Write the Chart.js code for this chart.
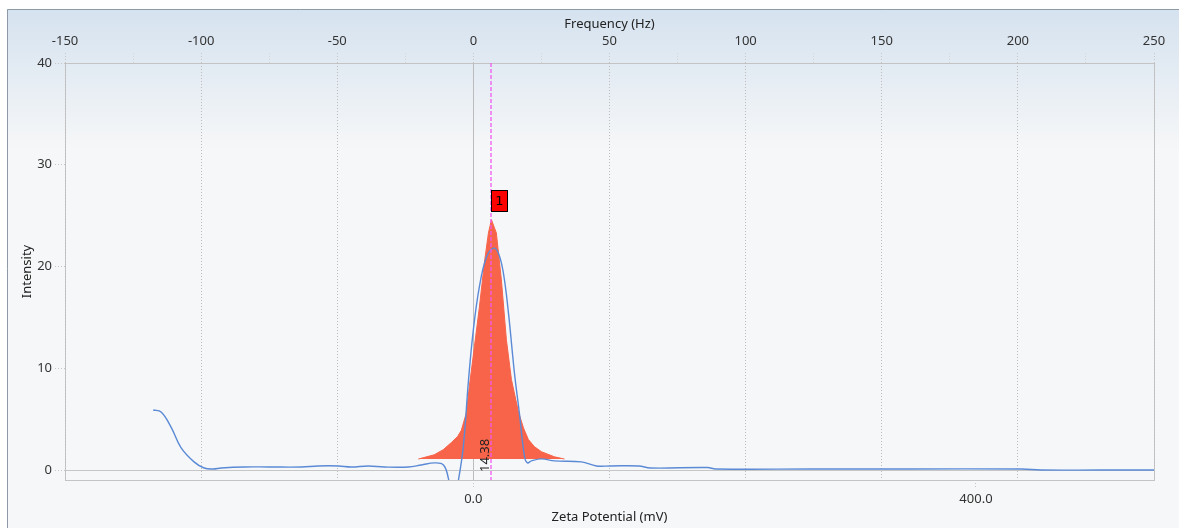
<!DOCTYPE html>
<html>
<head>
<meta charset="utf-8">
<script src="https://cdn.jsdelivr.net/npm/chart.js@4.4.1/dist/chart.umd.min.js"></script>
<style>
  html, body { margin: 0; padding: 0; background: #fff; }
  canvas { display: block; }
</style>
</head>
<body>
<canvas id="zetaChart" width="1179" height="528"></canvas>
<script>
  // phase / frequency plot (Hz on the top axis)
  const freqHz = [-117.6, -114.7, -111, -107.4, -102.6, -98.9, -95.6, -92.6, -84.2, -75, -63.2, -57, -49.6, -44.9, -38.6, -32.7, -23.9, -19.1, -14.3, -11, -9.2, -7.5, -5.5, -3.7, -1.8, 0, 2.2, 4.8, 7.4, 9.2, 11, 12.9, 15.1, 16.9, 18.8, 19.9, 21.3, 25, 29.8, 39.7, 45.2, 50.4, 60.7, 65.1, 86, 89, 124.3, 160, 201.5, 208.5, 230, 250];
  const freqIntensity = [5.9, 5.7, 4.2, 2.2, 0.8, 0.2, 0.1, 0.2, 0.3, 0.3, 0.3, 0.4, 0.4, 0.3, 0.4, 0.3, 0.3, 0.5, 0.7, 0.5, -0.8, -3.5, -1.0, 2.3, 8.8, 13.8, 18.0, 20.9, 21.8, 21.3, 19.4, 15.4, 9.5, 5.6, 1.3, 0.7, 0.9, 1.1, 0.9, 0.8, 0.4, 0.4, 0.4, 0.2, 0.25, 0.1, 0.1, 0.1, 0.1, 0.0, 0.0, 0.0];

  // zeta potential distribution (mV on the bottom axis)
  const zetaMv = [-43.8, -31.1, -24, -17.5, -12.5, -9.6, -5.6, -3.2, 0.8, 4.8, 8.8, 12, 14.38, 18.3, 22.3, 26.3, 30.3, 35.9, 40, 43.8, 48.5, 54.2, 64.5, 72.5];
  const zetaIntensity = [1.08, 1.5, 2.0, 2.7, 3.3, 3.9, 5.6, 8.2, 12.1, 16.0, 20.4, 23.3, 24.6, 23.3, 18.7, 12.8, 8.9, 5.7, 4.1, 3.0, 2.3, 1.8, 1.3, 1.08];
  const zetaBase = 1.08;
  const peakZeta = 14.38;
  const peakName = '1';

  const freqTicks = [-150, -125, -100, -75, -50, -25, 0, 25, 50, 75, 100, 125, 150, 175, 200, 225, 250];
  const zetaTicks = [0, 400];
  const intensityTicks = [0, 10, 20, 30, 40];

  const font = { family: "'Noto Sans', 'DejaVu Sans', sans-serif", size: 13 };
  const gridGray = '#c6c6c6';

  const decorations = {
    id: 'decorations',
    beforeDraw(chart) {
      const { ctx, width, height, chartArea: a } = chart;
      ctx.save();
      ctx.fillStyle = '#fff';
      ctx.fillRect(0, 0, width, height);
      const g = ctx.createLinearGradient(0, 9, 0, 150);
      g.addColorStop(0, '#d5e2ef');
      g.addColorStop(1, '#f6f7f8');
      ctx.fillStyle = g;
      ctx.fillRect(7, 9, width - 7, height - 9);
      ctx.strokeStyle = '#8d99a6';
      ctx.lineWidth = 1;
      ctx.beginPath();
      ctx.moveTo(7.5, height);
      ctx.lineTo(7.5, 9.5);
      ctx.lineTo(width, 9.5);
      ctx.stroke();
      ctx.strokeStyle = '#c4c4c4';
      ctx.strokeRect(a.left + 0.5, a.top + 0.5, a.right - a.left, a.bottom - a.top);
      ctx.restore();
    },
    afterDatasetsDraw(chart) {
      const { ctx, chartArea: a, scales } = chart;
      const px = scales.xz.getPixelForValue(peakZeta);
      const py = scales.y.getPixelForValue(Math.max(...zetaIntensity));
      ctx.save();
      // peak marker line
      ctx.strokeStyle = 'rgb(240, 90, 240)';
      ctx.lineWidth = 1.3;
      ctx.setLineDash([4, 2]);
      ctx.beginPath();
      ctx.moveTo(Math.round(px), a.top);
      ctx.lineTo(Math.round(px), a.bottom);
      ctx.stroke();
      ctx.setLineDash([]);
      // peak number box
      const bx = Math.round(px) + 0.5, by = Math.round(py) - 29.5;
      ctx.fillStyle = '#ff0000';
      ctx.fillRect(bx, by, 16, 21);
      ctx.strokeStyle = '#000';
      ctx.lineWidth = 1;
      ctx.strokeRect(bx, by, 16, 21);
      ctx.fillStyle = '#000';
      ctx.font = "13px 'DejaVu Sans', sans-serif";
      ctx.textAlign = 'center';
      ctx.textBaseline = 'middle';
      ctx.fillText(peakName, bx + 8, by + 11);
      // peak value, rotated
      ctx.translate(px - 6, a.bottom - 8);
      ctx.rotate(-Math.PI / 2);
      ctx.textAlign = 'left';
      ctx.fillStyle = '#222';
      ctx.font = "13px 'Noto Sans', sans-serif";
      ctx.fillText(peakZeta.toFixed(2), 0, 0);
      ctx.restore();
    }
  };

  const zetaChart = new Chart(document.getElementById('zetaChart').getContext('2d'), {
    type: 'line',
    data: {
      datasets: [
        {
          label: 'Frequency plot',
          data: freqHz.map((x, i) => ({ x, y: freqIntensity[i] })),
          xAxisID: 'xf',
          yAxisID: 'y',
          borderColor: '#5a8ad6',
          borderWidth: 1.4,
          pointRadius: 0,
          tension: 0.4,
          fill: false
        },
        {
          label: 'Zeta potential distribution',
          data: zetaMv.map((x, i) => ({ x, y: zetaIntensity[i] })),
          xAxisID: 'xz',
          yAxisID: 'y',
          borderColor: '#f8644a',
          backgroundColor: '#f8644a',
          borderWidth: 1,
          pointRadius: 0,
          tension: 0,
          fill: { value: zetaBase }
        }
      ]
    },
    options: {
      responsive: false,
      animation: false,
      layout: { padding: { left: 8, right: 25, top: 10, bottom: 0 } },
      plugins: {
        legend: { display: false },
        tooltip: { enabled: false }
      },
      scales: {
        xf: {
          type: 'linear',
          position: 'top',
          min: -150,
          max: 250,
          afterBuildTicks: s => { s.ticks = freqTicks.map(v => ({ value: v })); },
          afterFit: s => { s.height = 53; },
          ticks: {
            autoSkip: false,
            maxRotation: 0,
            padding: 4,
            color: '#333',
            font,
            callback: v => (v % 50 === 0 ? String(v) : '')
          },
          grid: {
            color: ctx => (ctx.tick && ctx.tick.value % 50 === 0 ? '#bcbcbc' : 'transparent'),
            tickColor: ctx => (ctx.tick && ctx.tick.value % 50 === 0 ? gridGray : '#d4d4d4'),
            tickBorderDash: [1, 2],
            tickLength: 10
          },
          border: {
            display: false,
            dash: ctx => (ctx.tick && ctx.tick.value === 0 ? [] : [1, 2])
          },
          title: { display: true, text: 'Frequency (Hz)', color: '#222', font, padding: { top: 6, bottom: 0 } }
        },
        xz: {
          type: 'linear',
          position: 'bottom',
          min: -325,
          max: 541.7,
          afterBuildTicks: s => { s.ticks = zetaTicks.map(v => ({ value: v })); },
          afterFit: s => { s.height = 48; },
          ticks: {
            autoSkip: false,
            maxRotation: 0,
            padding: 3,
            color: '#333',
            font,
            callback: v => Number(v).toFixed(1)
          },
          grid: {
            drawOnChartArea: false,
            tickColor: gridGray,
            tickBorderDash: [1, 2],
            tickLength: 8
          },
          border: { display: false },
          title: { display: true, text: 'Zeta Potential (mV)', color: '#222', font, padding: { top: 0, bottom: 3 } }
        },
        y: {
          type: 'linear',
          min: -0.98,
          max: 40,
          afterBuildTicks: s => { s.ticks = intensityTicks.map(v => ({ value: v })); },
          afterFit: s => { s.width = 57; },
          ticks: { padding: 3, color: '#333', font },
          grid: {
            color: ctx => (ctx.tick && ctx.tick.value === 0 ? gridGray : 'transparent'),
            tickColor: gridGray,
            tickBorderDash: [1, 2],
            tickLength: 10
          },
          border: { display: false },
          title: { display: true, text: 'Intensity', color: '#222', font, padding: { top: 11, bottom: 0 } }
        }
      }
    },
    plugins: [decorations]
  });
</script>
</body>
</html>
